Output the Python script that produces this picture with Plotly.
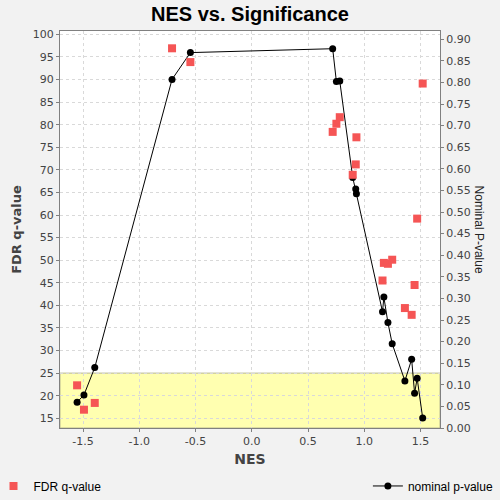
import plotly.graph_objects as go

# values
nes = [-1.553, -1.492, -1.396, -0.709, -0.546, 0.719, 0.752, 0.782, 0.897, 0.924,
       0.930, 1.162, 1.174, 1.210, 1.248, 1.361, 1.421, 1.447, 1.470, 1.519]
fdr_q = [22.3, 16.9, 18.4, 96.9, 93.85, 78.4, 80.2, 81.65, 68.9, 71.2,
         77.2, 45.5, 49.4, 49.2, 50.1, 39.4, 37.9, 44.5, 59.2, 89.1]
nom_p = [0.0597, 0.0766, 0.140, 0.807, 0.869, 0.878, 0.802, 0.803, 0.580, 0.553,
         0.542, 0.269, 0.303, 0.244, 0.195, 0.109, 0.159, 0.0806, 0.115, 0.0232]
fdr_cutoff = 25

# x tick labels with a plain hyphen, like the original
nes_ticks = [-1.5, -1.0, -0.5, 0.0, 0.5, 1.0, 1.5]
nes_ticktext = ["-1.5", "-1.0", "-0.5", "0.0", "0.5", "1.0", "1.5"]

FONT = "DejaVu Sans"
TICK_FONT = dict(family=FONT, size=11, color="#444444")

fig = go.Figure()

# nominal p-value line (right axis, main subplot so it sits underneath)
fig.add_trace(go.Scatter(
    x=nes, y=nom_p, yaxis="y", name="nominal p-value",
    mode="lines+markers",
    line=dict(color="black", width=1),
    marker=dict(color="black", size=7, symbol="circle"),
    legend="legend2", showlegend=True,
))

# FDR q-values (left axis, overlaid so squares are drawn on top)
fig.add_trace(go.Scatter(
    x=nes, y=fdr_q, yaxis="y2", name="FDR q-value",
    mode="markers",
    marker=dict(color="#f55555", size=8, symbol="square"),
    legend="legend", showlegend=True,
))

fdr_range = [12.85, 100.73]

fig.add_shape(
    type="rect", xref="paper", yref="y2",
    x0=0, x1=1, y0=fdr_range[0], y1=fdr_cutoff,
    fillcolor="#ffffb0", line=dict(color="#b8b890", width=1),
    layer="below",
)

fig.update_layout(
    width=500, height=500,
    paper_bgcolor="#f2f2f2", plot_bgcolor="white",
    margin=dict(l=60, r=60, t=31, b=72, autoexpand=False),
    title=dict(text="<b>NES vs. Significance</b>", x=0.5, xanchor="center",
               y=0.972, yanchor="middle",
               font=dict(family="Liberation Sans", size=20, color="black")),
    xaxis=dict(
        range=[-1.705, 1.673], tickvals=nes_ticks, ticktext=nes_ticktext,
        showgrid=True, gridcolor="#d9d9d9", griddash="3px,3px", zeroline=False,
        showline=True, linecolor="#808080", mirror=True,
        ticks="outside", ticklen=3, tickcolor="#808080",
        tickfont=TICK_FONT, automargin=False,
        title=dict(text="<b>NES</b>", standoff=6,
                   font=dict(family=FONT, size=14, color="#444444")),
    ),
    yaxis=dict(
        side="right", range=[0, 0.919], dtick=0.05, tickformat=".2f",
        showgrid=False, zeroline=False,
        showline=True, linecolor="#808080",
        ticks="outside", ticklen=3, tickcolor="#808080",
        tickfont=TICK_FONT, automargin=False,
    ),
    yaxis2=dict(
        side="left", overlaying="y", range=fdr_range, dtick=5,
        showgrid=True, gridcolor="#d9d9d9", griddash="3px,3px", zeroline=False,
        showline=True, linecolor="#808080",
        ticks="outside", ticklen=3, tickcolor="#808080",
        tickfont=TICK_FONT, automargin=False,
        title=dict(text="<b>FDR q-value</b>", standoff=8,
                   font=dict(family=FONT, size=13, color="#444444")),
    ),
    legend=dict(
        orientation="h", x=-0.175, xanchor="left", y=-0.146, yanchor="middle",
        bgcolor="rgba(0,0,0,0)", itemwidth=30,
        font=dict(family="Liberation Sans", size=12, color="black"),
    ),
    legend2=dict(
        orientation="h", x=1.155, xanchor="right", y=-0.146, yanchor="middle",
        bgcolor="rgba(0,0,0,0)", itemwidth=30,
        font=dict(family="Liberation Sans", size=12, color="black"),
    ),
    annotations=[dict(
        text="Nominal P-value", xref="paper", yref="paper",
        x=1.105, y=0.5, xanchor="center", yanchor="middle",
        textangle=90, showarrow=False,
        font=dict(family="Liberation Sans", size=12, color="#222222"),
    )],
)

fig.write_html("out.html", config={"displayModeBar": False},
               post_script="document.body.style.margin='0';")
